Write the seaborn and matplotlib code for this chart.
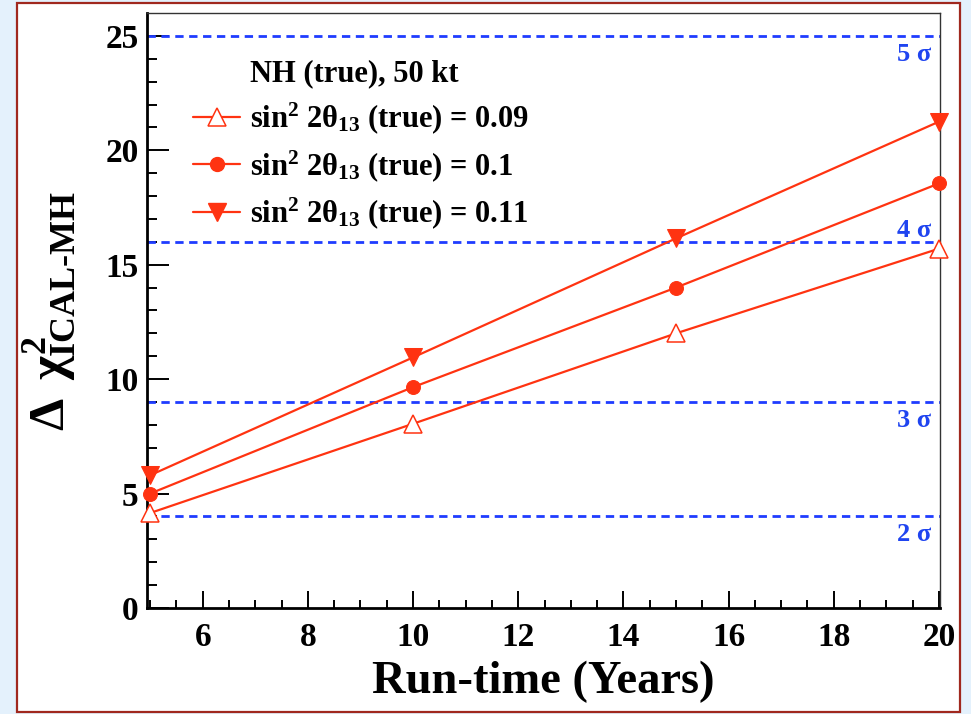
import numpy as np
import pandas as pd
import matplotlib
matplotlib.use("Agg")
import matplotlib.pyplot as plt
import seaborn as sns
from matplotlib.lines import Line2D
from matplotlib.patches import Rectangle

# data
years = [5, 10, 15, 20]
chi2_009 = [4.15, 8.05, 12.0, 15.7]
chi2_010 = [5.0, 9.65, 14.0, 18.55]
chi2_011 = [5.8, 10.95, 16.15, 21.25]
sigma_levels = [4, 9, 16, 25]
sigma_labels = ["2", "3", "4", "5"]
series_labels = [r"sin$^{2}$ 2$\theta_{13}$ (true) = 0.09",
                 r"sin$^{2}$ 2$\theta_{13}$ (true) = 0.1",
                 r"sin$^{2}$ 2$\theta_{13}$ (true) = 0.11"]
legend_title = "NH (true), 50 kt"

sns.set_style("ticks")
plt.rcParams['font.family'] = ['Liberation Serif', 'DejaVu Serif']
plt.rcParams['font.weight'] = 'bold'
plt.rcParams['text.color'] = 'black'
plt.rcParams['axes.labelcolor'] = 'black'
plt.rcParams['xtick.labelcolor'] = 'black'
plt.rcParams['ytick.labelcolor'] = 'black'
plt.rcParams['mathtext.fontset'] = 'custom'
plt.rcParams['mathtext.rm'] = 'Liberation Serif:bold'
plt.rcParams['mathtext.it'] = 'Liberation Serif:bold'
plt.rcParams['mathtext.bf'] = 'Liberation Serif:bold'

red = '#ff3311'
blue = '#1f3cff'

df = pd.DataFrame({
    'years': years * 3,
    'chi2': chi2_009 + chi2_010 + chi2_011,
    'set': [series_labels[0]] * 4 + [series_labels[1]] * 4 + [series_labels[2]] * 4,
})

fig = plt.figure(figsize=(9.71, 7.14), dpi=100, facecolor='#e4f1fc')
fig.patches.append(Rectangle((17 / 971, 2 / 714), 943 / 971, 709 / 714,
                             transform=fig.transFigure, facecolor='white',
                             edgecolor='#a0281e', linewidth=1.6, zorder=-10))
ax = fig.add_axes([0.1514, 0.1485, 0.8166, 0.8333])
ax.set_facecolor('white')

# sigma lines
for lev, lab in zip(sigma_levels, sigma_labels):
    ax.axhline(lev, color=blue, lw=2, linestyle=(0, (3, 2)), zorder=1)
    dy = 0.5 if lab == "4" else -0.8
    ax.text(19.85, lev + dy, lab + " σ", color='#1f44f0', fontsize=19,
            ha='right', va='center', fontweight='bold')

styles = [dict(marker='^', markersize=13.5, markerfacecolor='white', markeredgecolor=red, markeredgewidth=1.1),
          dict(marker='o', markersize=10, markerfacecolor=red, markeredgecolor=red),
          dict(marker='v', markersize=13.5, markerfacecolor=red, markeredgecolor=red)]

handles = [Line2D([], [], linestyle='none')]
for lab, st in zip(series_labels, styles):
    sub = df[df['set'] == lab]
    sns.lineplot(data=sub, x='years', y='chi2', color=red, lw=1.6, ax=ax,
                 clip_on=False, zorder=3, **st)
    handles.append(Line2D([], [], color=red, lw=1.6, **st))

ax.legend(handles, [legend_title] + series_labels, loc='upper left',
          bbox_to_anchor=(0.058, 0.922), frameon=False, fontsize=22,
          handlelength=1.55, handletextpad=0.3, labelspacing=0.39,
          borderpad=0, borderaxespad=0)

ax.set_xlim(4.94, 20.02)
ax.set_ylim(0, 26)
ax.set_xticks([6, 8, 10, 12, 14, 16, 18, 20])
ax.set_xticks(np.arange(5, 20.01, 0.5), minor=True)
ax.set_yticks([0, 5, 10, 15, 20, 25])
ax.set_yticks(np.arange(0, 26, 1), minor=True)
ax.tick_params(axis='both', which='both', direction='in', width=1.4, color='black',
               labelsize=24, labelcolor='black', top=False, right=False)
ax.tick_params(axis='y', which='major', length=16, pad=6)
ax.tick_params(axis='y', which='minor', length=7.5)
ax.tick_params(axis='x', which='major', length=12.5, pad=10)
ax.tick_params(axis='x', which='minor', length=6)
for lab in ax.get_xticklabels() + ax.get_yticklabels():
    lab.set_fontweight('bold')

for s in ['left', 'bottom']:
    ax.spines[s].set_linewidth(2)
    ax.spines[s].set_color('black')
for s in ['top', 'right']:
    ax.spines[s].set_linewidth(1)
    ax.spines[s].set_color('#333333')

ax.set_xlabel("Run-time (Years)", fontsize=33.5, fontweight='bold', labelpad=6)
ax.set_ylabel(r"$\Delta\;\,\chi^{2}_{\text{ICAL-MH}}$", fontsize=37, labelpad=20)

fig.savefig("out.png", dpi=100, facecolor=fig.get_facecolor())
